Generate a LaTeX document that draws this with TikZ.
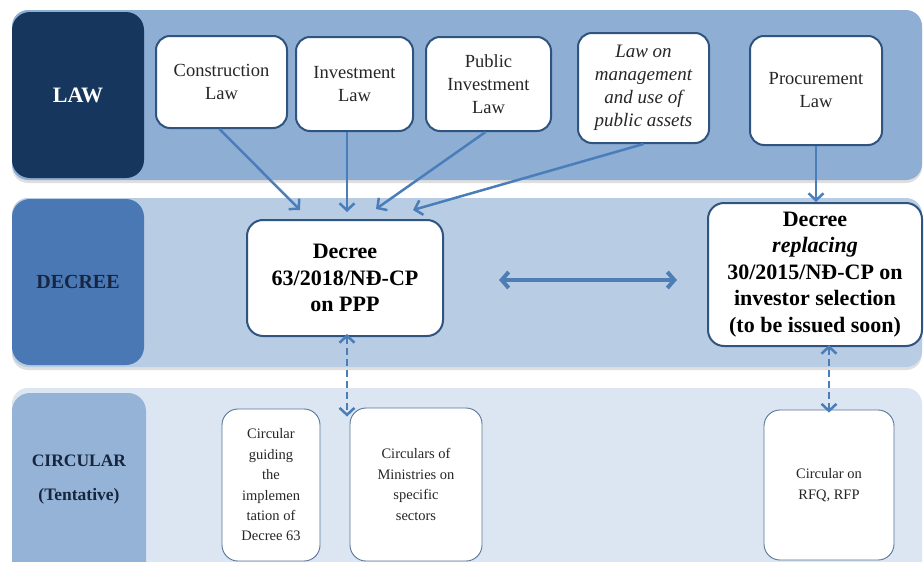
\documentclass[tikz,border=0pt]{standalone}
\usepackage{fontspec}
\setmainfont{Liberation Serif}
\usetikzlibrary{arrows.meta,shadows}
\definecolor{lawband}{HTML}{8EAED4}
\definecolor{lawlab}{HTML}{17365D}
\definecolor{decband}{HTML}{B8CCE4}
\definecolor{declab}{HTML}{4A78B4}
\definecolor{cirband}{HTML}{DCE6F2}
\definecolor{cirlab}{HTML}{95B3D7}
\definecolor{boxline}{HTML}{2F5480}
\definecolor{arrowc}{HTML}{4A7EBB}
\definecolor{navytext}{HTML}{17263F}
\begin{document}
\begin{tikzpicture}[x=1pt,y=-1pt,
  band/.style={rounded corners=16pt, drop shadow={shadow xshift=0pt,shadow yshift=-3pt,opacity=.25,fill=gray}},
  lab/.style={rounded corners=18pt, inner sep=0pt, align=center, font=\bfseries},
  lawbox/.style={draw=boxline, line width=2pt, fill=white, rounded corners=14pt, align=center, inner sep=0pt, text=black!85, font=\fontsize{18.5}{23}\selectfont},
  decbox/.style={draw=boxline, line width=2pt, fill=white, rounded corners=16pt, align=center, inner sep=0pt, font=\fontsize{22}{26.5}\selectfont\bfseries},
  cirbox/.style={draw=boxline!80, line width=0.9pt, fill=white, rounded corners=16pt, align=center, inner sep=0pt, text=black!85, font=\fontsize{14.5}{20.4}\selectfont},
  conn/.style={draw=arrowc, line width=2.5pt, -{Straight Barb[length=7pt,width=15pt]}},
  dconn/.style={draw=arrowc, line width=2.5pt, dash pattern=on 7pt off 4pt, {Straight Barb[length=7pt,width=15pt]}-{Straight Barb[length=7pt,width=15pt]}},
  hconn/.style={draw=arrowc!90!gray, line width=4pt, {Straight Barb[length=7pt,width=16pt]}-{Straight Barb[length=7pt,width=16pt]}}
]
\useasboundingbox (0,0) rectangle (924,562);
\fill[white] (0,0) rectangle (924,562);

% bands
\fill[lawband, band] (12,10) rectangle (922,180);
\fill[decband, band] (12,198) rectangle (922,367);
\fill[cirband, rounded corners=16pt] (12,388) rectangle (922,580);

% row labels
\node[lab, fill=lawlab, minimum width=132pt, minimum height=166pt, text=white, font=\fontsize{22}{26}\selectfont\bfseries] (lawl) at (78,95) {LAW};
\node[lab, fill=declab, minimum width=132pt, minimum height=166pt, text=navytext, font=\fontsize{20}{24}\selectfont\bfseries] (decl) at (78,282) {DECREE};
\fill[cirlab, rounded corners=18pt] (12,393) rectangle (146,590);
\node[text=navytext, align=center, font=\fontsize{17.5}{34}\selectfont\bfseries] (cirl) at (79,480) {CIRCULAR\\(Tentative)};

% law boxes
\node[lawbox, minimum width=131pt, minimum height=92pt] (cons) at (221.5,82) {Construction\\Law};
\node[lawbox, minimum width=117pt, minimum height=94pt] (inv) at (354.5,84) {Investment\\Law};
\node[lawbox, minimum width=125pt, minimum height=94pt] (pinv) at (488.5,84) {Public\\Investment\\Law};
\node[lawbox, minimum width=131pt, minimum height=110pt, font=\fontsize{19}{23}\selectfont\itshape] (mgmt) at (643.5,88) {Law on\\management\\and use of\\public assets};
\node[lawbox, minimum width=132pt, minimum height=109pt] (proc) at (816,90.5) {Procurement\\Law};

% decree boxes
\node[decbox, minimum width=196pt, minimum height=116pt] (d63) at (345,278) {Decree\\63/2018/NĐ-CP\\on PPP};
\node[decbox, minimum width=214pt, minimum height=143pt] (drep) at (815,274.5) {Decree\\\textit{replacing}\\30/2015/NĐ-CP on\\investor selection\\(to be issued soon)};

% circular boxes
\node[cirbox, minimum width=98pt, minimum height=152pt] (cg) at (271,485) {Circular\\guiding\\the\\implemen\\tation of\\Decree 63};
\node[cirbox, minimum width=132pt, minimum height=153pt] (cm) at (416,484.5) {Circulars of\\Ministries on\\specific\\sectors};
\node[cirbox, minimum width=130pt, minimum height=150pt] (crfq) at (829,485) {Circular on\\RFQ, RFP};

% coordinates for arrow ends
\coordinate (t1) at (300,210);
\coordinate (t2) at (347,212);
\coordinate (t3) at (376,209);
\coordinate (t4) at (413,210);

\draw[conn] (cons.south) ++(-2,0) -- (t1);
\draw[conn] (inv.south -| t2) -- (t2);
\draw[conn] ([xshift=-3pt]pinv.south) -- (t3);
\draw[conn] (mgmt.south) -- (t4);
\draw[conn] (proc.south) -- (drep.north -| proc.south);

\coordinate (h1) at (499,280);
\coordinate (h2) at (677,280);
\draw[hconn] (h1) -- (h2);

\draw[dconn] ([yshift=3pt]d63.south -| t2) -- ([yshift=-9pt]cm.north -| t2);
\draw[dconn] ([yshift=2pt]drep.south -| crfq.north) -- ([yshift=-3pt]crfq.north);
\end{tikzpicture}
\end{document}
